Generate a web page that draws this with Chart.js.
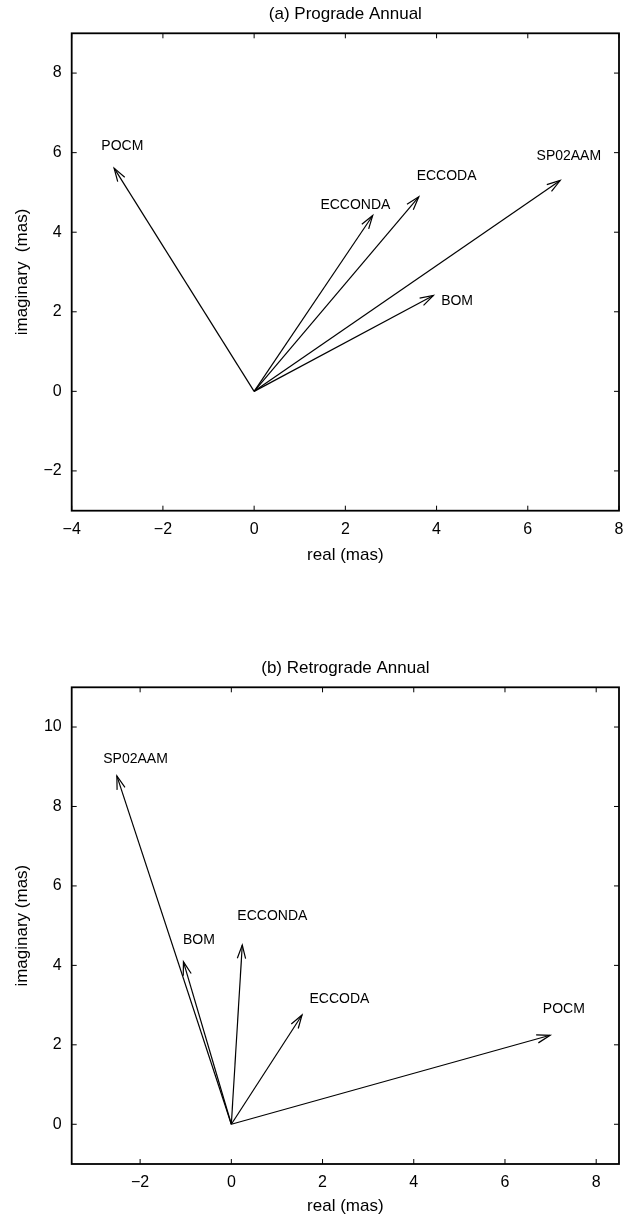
<!DOCTYPE html>
<html>
<head>
<meta charset="utf-8">
<script src="https://cdn.jsdelivr.net/npm/chart.js@4.4.1/dist/chart.umd.min.js"></script>
<style>
body { margin: 0; background: #fff; }
canvas { display: block; position: absolute; left: 0; }
</style>
</head>
<body>
<canvas id="prograde" width="634" height="608" style="top:0px"></canvas>
<canvas id="retrograde" width="634" height="609" style="top:608px"></canvas>
<script>
// (a) prograde annual
const proModelos = ['POCM', 'ECCONDA', 'ECCODA', 'SP02AAM', 'BOM'];
const proReal = [-3.07, 2.60, 3.61, 6.71, 3.93];
const proImag = [5.61, 4.42, 4.89, 5.30, 2.41];
const proEtqX = [-2.89, 2.22, 4.22, 6.90, 4.45];
const proEtqY = [6.16, 4.69, 5.42, 5.91, 2.26];
const proTicksX = [-4, -2, 0, 2, 4, 6, 8];
const proTicksY = [-2, 0, 2, 4, 6, 8];

// (b) retrograde annual
const retModelos = ['POCM', 'ECCONDA', 'ECCODA', 'SP02AAM', 'BOM'];
const retReal = [6.99, 0.24, 1.55, -2.51, -1.05];
const retImag = [2.24, 4.51, 2.75, 8.77, 4.09];
const retEtqX = [7.29, 0.90, 2.37, -2.10, -0.71];
const retEtqY = [2.90, 5.23, 3.15, 9.20, 4.64];
const retTicksX = [-2, 0, 2, 4, 6, 8];
const retTicksY = [0, 2, 4, 6, 8, 10];

const fuente = '"Liberation Sans", Arial, Helvetica, sans-serif';

// punta de flecha abierta + nombre del modelo
const flechas = {
    id: 'flechas',
    afterDatasetsDraw(chart, args, opts) {
        const ctx = chart.ctx;
        const sx = chart.scales.x, sy = chart.scales.y;
        ctx.save();
        ctx.strokeStyle = '#000';
        ctx.lineWidth = 1.2;
        chart.data.datasets.forEach((ds, i) => {
            const pts = chart.getDatasetMeta(i).data;
            const a = pts[0], b = pts[1];
            const ang = Math.atan2(b.y - a.y, b.x - a.x);
            const L = 14, w = 0.3;
            ctx.beginPath();
            ctx.moveTo(b.x - L * Math.cos(ang - w), b.y - L * Math.sin(ang - w));
            ctx.lineTo(b.x, b.y);
            ctx.lineTo(b.x - L * Math.cos(ang + w), b.y - L * Math.sin(ang + w));
            ctx.stroke();
        });
        ctx.fillStyle = '#000';
        ctx.font = '14px ' + fuente;
        ctx.textAlign = 'center';
        ctx.textBaseline = 'middle';
        for (let i = 0; i < opts.nombres.length; i++) {
            ctx.fillText(opts.nombres[i], sx.getPixelForValue(opts.ex[i]), sy.getPixelForValue(opts.ey[i]));
        }
        ctx.restore();
    }
};

// marco y marcas hacia dentro en los cuatro lados
const marco = {
    id: 'marco',
    afterDraw(chart) {
        const ctx = chart.ctx;
        const ca = chart.chartArea;
        const sx = chart.scales.x, sy = chart.scales.y;
        ctx.save();
        ctx.strokeStyle = '#000';
        ctx.lineWidth = 1;
        ctx.beginPath();
        sx.ticks.forEach(t => {
            const px = sx.getPixelForValue(t.value);
            ctx.moveTo(px, ca.bottom); ctx.lineTo(px, ca.bottom - 5);
            ctx.moveTo(px, ca.top); ctx.lineTo(px, ca.top + 5);
        });
        sy.ticks.forEach(t => {
            const py = sy.getPixelForValue(t.value);
            ctx.moveTo(ca.left, py); ctx.lineTo(ca.left + 5, py);
            ctx.moveTo(ca.right, py); ctx.lineTo(ca.right - 5, py);
        });
        ctx.stroke();
        ctx.lineWidth = 1.8;
        ctx.strokeRect(ca.left, ca.top, ca.right - ca.left, ca.bottom - ca.top);
        ctx.restore();
    }
};

function menos(v) {
    return v < 0 ? '\u2212' + Math.abs(v) : '' + v;
}

function grafico(id, titulo, tituloY, real, imag, nombres, ex, ey, tx, ty, rx, ry, cfg) {
    const datasets = [];
    for (let i = 0; i < real.length; i++) {
        datasets.push({
            label: nombres[i],
            data: [{ x: 0, y: 0 }, { x: real[i], y: imag[i] }],
            showLine: true,
            borderColor: '#000',
            borderWidth: 1.2,
            pointRadius: 0,
            fill: false
        });
    }
    return new Chart(document.getElementById(id), {
        type: 'scatter',
        data: { datasets: datasets },
        plugins: [flechas, marco],
        options: {
            responsive: false,
            animation: false,
            layout: { padding: { left: 0, right: 15, top: 0, bottom: 0 } },
            plugins: {
                legend: { display: false },
                tooltip: { enabled: false },
                title: {
                    display: true,
                    text: titulo,
                    fullSize: false,
                    color: '#000',
                    font: { family: fuente, size: 17, weight: 'normal' },
                    padding: cfg.tituloPad
                },
                flechas: { nombres: nombres, ex: ex, ey: ey }
            },
            scales: {
                x: {
                    type: 'linear',
                    min: rx[0], max: rx[1],
                    afterBuildTicks: s => { s.ticks = tx.map(v => ({ value: v })); },
                    afterFit: s => { s.height = cfg.altoX; },
                    grid: { display: false, drawTicks: false },
                    border: { display: false },
                    ticks: {
                        color: '#000', padding: 9,
                        font: { family: fuente, size: 16 },
                        callback: v => menos(v)
                    },
                    title: {
                        display: true, text: 'real (mas)', color: '#000',
                        font: { family: fuente, size: 17 },
                        padding: { top: 0, bottom: cfg.xTitPad }
                    }
                },
                y: {
                    type: 'linear',
                    min: ry[0], max: ry[1],
                    afterBuildTicks: s => { s.ticks = ty.map(v => ({ value: v })); },
                    afterFit: s => { s.width = 71.7; },
                    grid: { display: false, drawTicks: false },
                    border: { display: false },
                    ticks: {
                        color: '#000', padding: 10,
                        font: { family: fuente, size: 16 },
                        callback: v => menos(v)
                    },
                    title: {
                        display: true, text: tituloY, color: '#000',
                        font: { family: fuente, size: 17 },
                        padding: { top: 11.8, bottom: 0 }
                    }
                }
            }
        }
    });
}

grafico('prograde', '(a) Prograde Annual', 'imaginary  (mas)',
    proReal, proImag, proModelos, proEtqX, proEtqY, proTicksX, proTicksY,
    [-4, 8], [-3, 9],
    { tituloPad: { top: 4.4, bottom: 8.5 }, altoX: 97.3, xTitPad: 42.5 });

grafico('retrograde', '(b) Retrograde Annual', 'imaginary (mas)',
    retReal, retImag, retModelos, retEtqX, retEtqY, retTicksX, retTicksY,
    [-3.5, 8.5], [-1, 11],
    { tituloPad: { top: 50.5, bottom: 8.4 }, altoX: 53, xTitPad: 0 });
</script>
</body>
</html>
